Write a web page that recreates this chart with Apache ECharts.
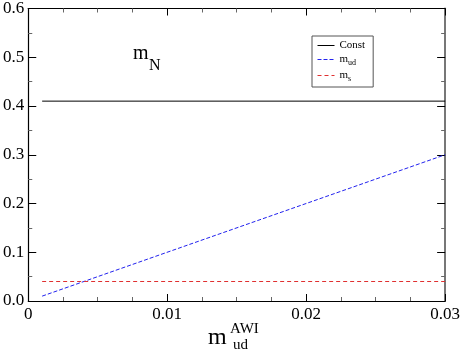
<!DOCTYPE html>
<html>
<head>
<meta charset="utf-8">
<script src="https://cdn.jsdelivr.net/npm/echarts@6/dist/echarts.min.js"></script>
<style>
  html, body { margin: 0; padding: 0; background: #fff; }
  #chart { width: 463px; height: 353px; }
</style>
</head>
<body>
<div id="chart"></div>
<script>
// data
const constX = [0.001, 0.03]
const constY = [0.41, 0.41]
const mudX = [0.001, 0.03]
const mudY = [0.01, 0.30]
const msX = [0.001, 0.03]
const msY = [0.04, 0.04]
const seriesNames = ['Const', 'm_ud', 'm_s']

const FONT = 'Liberation Serif'
const pairs = (xs, ys) => xs.map((x, i) => [x, ys[i]])

// line looks, shared between the series and the legend
const lineStyles = [
  { color: '#000', width: 1, type: 'solid' },
  { color: '#2222ee', width: 1, type: [4, 2] },
  { color: '#e03030', width: 1, type: [4, 3] }
]

const chart = echarts.init(document.getElementById('chart'))

// shared axis look, ticks point inward like the original
const tickLine = { color: '#000', width: 1 }
function xAxisCfg (pos, labels) {
  return {
    type: 'value', position: pos, min: 0, max: 0.03, interval: 0.01,
    axisLine: { show: true, onZero: false, lineStyle: { color: '#000', width: 1.2 } },
    axisTick: { show: true, inside: true, length: 7, lineStyle: tickLine },
    minorTick: { show: true, splitNumber: 4, length: 4, lineStyle: { color: '#666', width: 1 } },
    splitLine: { show: false },
    minorSplitLine: { show: false },
    axisLabel: {
      show: labels, margin: 5, color: '#000', fontFamily: FONT, fontSize: 17,
      formatter: v => (v === 0 ? '0' : v.toFixed(2))
    }
  }
}
function yAxisCfg (pos, labels) {
  return {
    type: 'value', position: pos, min: 0, max: 0.6, interval: 0.1,
    axisLine: { show: true, onZero: false, lineStyle: { color: pos === 'right' ? '#777' : '#000', width: pos === 'right' ? 2 : 1.2 } },
    axisTick: { show: true, inside: true, length: 8, lineStyle: tickLine },
    minorTick: { show: true, splitNumber: 2, length: 4, lineStyle: { color: '#666', width: 1 } },
    splitLine: { show: false },
    minorSplitLine: { show: false },
    axisLabel: {
      show: labels, margin: 4, color: '#000', fontFamily: FONT, fontSize: 17,
      formatter: v => v.toFixed(1)
    }
  }
}

const legendRich = {
  a: { fontFamily: FONT, fontSize: 11, color: '#000' },
  b: { fontFamily: FONT, fontSize: 8, color: '#000', padding: [7, 0, 0, 0] }
}

const options = {
  animation: false,
  backgroundColor: '#fff',
  grid: { left: 26, right: 16, top: 7, bottom: 52, containLabel: false },
  xAxis: [xAxisCfg('bottom', true), xAxisCfg('top', false)],
  yAxis: [yAxisCfg('left', true), yAxisCfg('right', false)],
  legend: {
    left: 312, top: 36, orient: 'vertical',
    width: 61,
    padding: [4, 8, 4, 5],
    itemWidth: 17, itemHeight: 10, itemGap: 3,
    borderColor: '#555', borderWidth: 1,
    itemStyle: { opacity: 0 },
    textStyle: { fontFamily: FONT, fontSize: 11, color: '#000', rich: legendRich },
    formatter: name => {
      if (name === 'm_ud') return '{a|m}{b|ud}'
      if (name === 'm_s') return '{a|m}{b|s}'
      return '{a|' + name + '}'
    },
    data: seriesNames.map((n, i) => ({ name: n, lineStyle: lineStyles[i] }))
  },
  series: [
    {
      name: seriesNames[0], type: 'line', symbol: 'none',
      data: pairs(constX, constY),
      lineStyle: lineStyles[0], itemStyle: { color: lineStyles[0].color }
    },
    {
      name: seriesNames[1], type: 'line', symbol: 'none',
      data: pairs(mudX, mudY),
      lineStyle: lineStyles[1], itemStyle: { color: lineStyles[1].color }
    },
    {
      name: seriesNames[2], type: 'line', symbol: 'none',
      data: pairs(msX, msY),
      lineStyle: lineStyles[2], itemStyle: { color: lineStyles[2].color }
    }
  ],
  graphic: [
    // m_N inside the plot
    { type: 'text', left: 133, top: 44, style: { text: 'm', font: '20px ' + FONT, fill: '#000' } },
    { type: 'text', left: 149, top: 58, style: { text: 'N', font: '16px ' + FONT, fill: '#000' } },
    // axis title m_ud^AWI
    { type: 'text', left: 208, top: 326, style: { text: 'm', font: '24px ' + FONT, fill: '#000' } },
    { type: 'text', left: 230, top: 322, style: { text: 'AWI', font: '15px ' + FONT, fill: '#000' } },
    { type: 'text', left: 233, top: 338, style: { text: 'ud', font: '15px ' + FONT, fill: '#000' } }
  ]
}

chart.setOption(options)
</script>
</body>
</html>
